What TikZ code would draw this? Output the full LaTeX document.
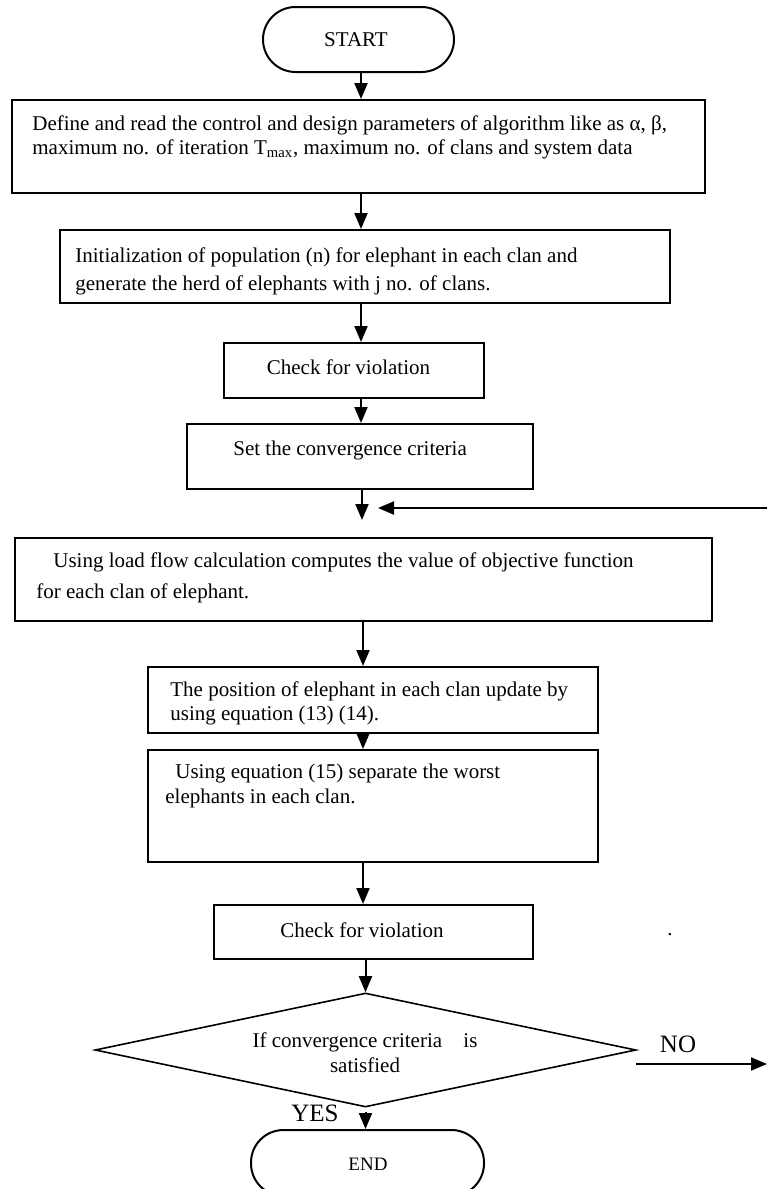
\documentclass[tikz,border=0pt]{standalone}
\usepackage{fontspec}
\setmainfont{Liberation Serif}
\usetikzlibrary{arrows.meta,fit,shapes.geometric}
\begin{document}
\begin{tikzpicture}[x=0.5pt,y=-0.5pt,
  box/.style={draw,line width=1pt,inner sep=0pt},
  term/.style={draw,line width=1pt,inner sep=0pt,rounded corners=16.25pt},
  arr/.style={line width=1pt,-{Triangle[length=8pt,width=6.5pt]}},
  txt/.style={inner sep=0pt,font=\fontsize{10.5}{12.6}\selectfont,anchor=mid west},
  ctxt/.style={inner sep=0pt,font=\fontsize{10.5}{12.6}\selectfont,anchor=mid},
  big/.style={inner sep=0pt,font=\fontsize{12.5}{15}\selectfont,anchor=mid}]
\useasboundingbox (0,0) rectangle (767,1189);
\fill[white] (0,0) rectangle (767,1189);
% columns
\coordinate (col) at (361,0);
\coordinate (col2) at (363,0);
% START
\node[term, fit={(263,7) (454,72)}] (start) {};
\node[ctxt] (tstart) at (356,42) {START};
% box 1
\node[box, fit={(12,100) (705,193)}] (b1) {};
\node[txt] (t1a) at (32,126) {Define and read the control and design parameters of algorithm like as α, β,};
\node[txt] (t1b) at (32,150) {maximum no. of iteration T\textsubscript{max}, maximum no. of clans and system data};
% box 2
\node[box, fit={(60,230) (670,303)}] (b2) {};
\node[txt] (t2a) at (75,258) {Initialization of population (n) for elephant in each clan and};
\node[txt] (t2b) at (75,286) {generate the herd of elephants with j no. of clans.};
% box 3
\node[box, fit={(224,343) (484,398)}] (b3) {};
\node[ctxt] (t3) at (348.5,370) {Check for violation};
% box 4
\node[box, fit={(187,424) (533,489)}] (b4) {};
\node[txt] (t4) at (233,451) {Set the convergence criteria};
\coordinate (loopin) at (362,520);
\coordinate (fbR) at (767,508);
\coordinate (fbL) at (378,508);
% box 5
\node[box, fit={(15,538) (712,621)}] (b5) {};
\node[txt] (t5a) at (53,563) {Using load flow calculation computes the value of objective function};
\node[txt] (t5b) at (36,594) {for each clan of elephant.};
% box 6
\node[box, fit={(148,667) (598,733)}] (b6) {};
\node[txt] (t6a) at (170,692) {The position of elephant in each clan update by};
\node[txt] (t6b) at (170,716) {using equation (13) (14).};
% box 7
\node[box, fit={(148,750) (598,862)}] (b7) {};
\node[txt] (t7a) at (175,774) {Using equation (15) separate the worst};
\node[txt] (t7b) at (165,799) {elephants in each clan.};
% box 8
\node[box, fit={(214,905) (533,959)}] (b8) {};
\node[ctxt] (t8) at (362,933) {Check for violation};
\node[ctxt] (dot) at (670,931) {.};
% decision
\node[diamond, draw, line width=0.8pt, minimum width=270.5pt, minimum height=57pt, inner sep=0pt] (dec) at (365.5,1050) {};
\node[ctxt] (td1) at (365,1043) {If convergence criteria\hspace{8pt} is};
\node[ctxt] (td2) at (365,1068) {satisfied};
\node[big] (no) at (678,1048) {NO};
\coordinate (noS) at (636,1064);
\coordinate (noE) at (767,1064);
\node[big] (yes) at (315,1117) {YES};
% END
\node[term, fit={(251,1130) (484,1196)}] (end) {};
\node[inner sep=0pt, anchor=mid, font=\fontsize{9.5}{11}\selectfont] (tend) at (368,1166) {END};
% connectors
\draw[arr] (start.south -| col) -- (b1.north -| col);
\draw[arr] (b1.south -| col) -- (b2.north -| col);
\draw[arr] (b2.south -| col) -- (b3.north -| col);
\draw[arr] (b3.south -| col) -- (b4.north -| col);
\draw[arr] (b4.south -| loopin) -- (loopin);
\draw[arr] (fbR) -- (fbL);
\draw[arr] (b5.south -| col2) -- (b6.north -| col2);
\draw[arr] (b6.south -| col2) -- (b7.north -| col2);
\draw[arr] (b7.south -| col2) -- (b8.north -| col2);
\draw[arr] (b8.south -| dec.north) -- (dec.north);
\draw[arr] ([yshift=-2pt]dec.south) -- (end.north -| dec.south);
\draw[arr] (noS) -- (noE);
\end{tikzpicture}
\end{document}
